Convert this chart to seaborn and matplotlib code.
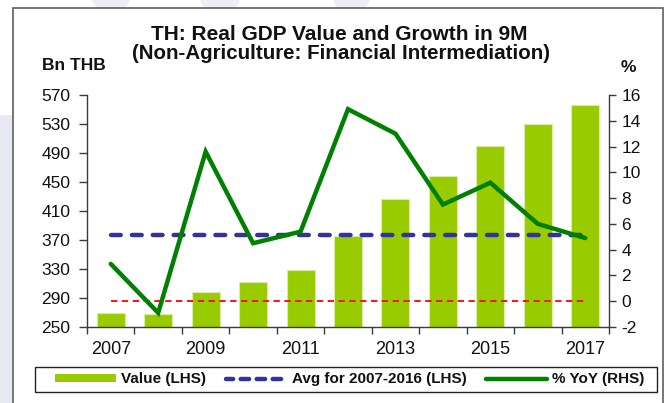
import numpy as np
import pandas as pd
import matplotlib
matplotlib.use("Agg")
import matplotlib.pyplot as plt
from matplotlib.patches import Rectangle, Patch, Polygon
from matplotlib.lines import Line2D
from matplotlib.ticker import FixedLocator, FixedFormatter, NullFormatter
import seaborn as sns

# ---- data ----
years = ["2007", "2008", "2009", "2010", "2011", "2012", "2013", "2014", "2015", "2016", "2017"]
value_bn_thb = [269, 267.5, 298, 311.5, 328, 375, 426.5, 458, 500, 530, 556]
yoy_pct = [2.9, -0.9, 11.6, 4.5, 5.4, 14.9, 13.0, 7.5, 9.2, 6.0, 4.9]
avg_2007_2016 = 376.5
zero_ref = 0.0
lhs_ticks = [250, 290, 330, 370, 410, 450, 490, 530, 570]
rhs_ticks = [-2, 0, 2, 4, 6, 8, 10, 12, 14, 16]
xlabel_years = ["2007", "2009", "2011", "2013", "2015", "2017"]

title_line1 = "TH: Real GDP Value and Growth in 9M"
title_line2 = "(Non-Agriculture: Financial Intermediation)"
lhs_label = "Bn THB"
rhs_label = "%"
legend_labels = ["Value (LHS)", "Avg for 2007-2016 (LHS)", "% YoY (RHS)"]

BAR_C = "#99CC00"
LINE_C = "#008000"
AVG_C = "#333399"
RED_C = "#FF0000"
TXT_C = "#111111"
AX_C = "#3a3a3a"

sns.set_style("white")
plt.rcParams["font.family"] = ["Liberation Sans", "DejaVu Sans"]
plt.rcParams["axes.unicode_minus"] = False

W, H = 669, 403
fig = plt.figure(figsize=(W / 100, H / 100), dpi=100)
fig.patch.set_facecolor("white")

# background decorations: lavender strip and outer frame
fig.patches.append(Rectangle((0, 0), 12.5 / W, 1 - 115 / H, transform=fig.transFigure,
                             facecolor="#e9e9f4", edgecolor="none", zorder=-5))
for xs in [(92, 130), (200, 240), (333, 370)]:
    fig.patches.append(Polygon([(xs[0] / W, 1), (xs[1] / W, 1), (xs[1] / W - 4 / W, 1 - 8 / H),
                                (xs[0] / W + 4 / W, 1 - 8 / H)], closed=True, transform=fig.transFigure,
                               facecolor="#ededf6", edgecolor="none", zorder=-5))
fig.patches.append(Rectangle((13 / W, -0.05), (663 - 13) / W, 1.05 - 8 / H, transform=fig.transFigure,
                             fill=False, edgecolor="#6b6b6b", linewidth=1.3, zorder=-4))

ax = fig.add_axes([87 / W, (H - 327) / H, (609 - 87) / W, (327 - 95) / H])
ax.set_facecolor("white")

df = pd.DataFrame({"year": years, "value": value_bn_thb, "yoy": yoy_pct})
df["pos"] = np.arange(len(df))

sns.barplot(data=df, x="year", y="value", color=BAR_C, saturation=1, width=0.59,
            edgecolor="#d9ee9f", linewidth=0.8, ax=ax, zorder=2)

n = len(years)
ax.plot([0, n - 1], [avg_2007_2016, avg_2007_2016], color=AVG_C, linewidth=3.2,
        linestyle=(0, (2.2, 2.5)), dash_capstyle="round", zorder=3)

ax.set_ylim(lhs_ticks[0], lhs_ticks[-1])
ax.set_yticks(lhs_ticks)
ax.set_xlim(-0.5, n - 0.5)
ax.set_xlabel("")
ax.set_ylabel("")

ax2 = ax.twinx()
ax2.plot([0, n - 1], [zero_ref, zero_ref], color=RED_C, linewidth=1.3,
         linestyle=(0, (3.5, 2.5)), zorder=2)
sns.lineplot(data=df, x="pos", y="yoy", color=LINE_C, linewidth=3.2, ax=ax2,
             zorder=4, solid_joinstyle="miter")
ax2.set_ylim(rhs_ticks[0], rhs_ticks[-1])
ax2.set_yticks(rhs_ticks)
ax2.set_xlim(-0.5, n - 0.5)
ax2.set_xlabel("")
ax2.set_ylabel("")

# spines
for a in (ax, ax2):
    a.spines["top"].set_visible(False)
    for s in ("left", "right", "bottom"):
        a.spines[s].set_color(AX_C)
        a.spines[s].set_linewidth(1.0)
ax.spines["right"].set_visible(False)
ax2.spines["left"].set_visible(False)
ax2.spines["bottom"].set_visible(False)

# x ticks: marks at category boundaries, labels at every other year
ax.xaxis.set_major_locator(FixedLocator(np.arange(-0.5, n, 1.0)))
ax.xaxis.set_major_formatter(NullFormatter())
label_pos = [years.index(y) for y in xlabel_years]
ax.xaxis.set_minor_locator(FixedLocator(label_pos))
ax.xaxis.set_minor_formatter(FixedFormatter(xlabel_years))
ax.tick_params(axis="x", which="major", direction="out", length=5, width=1, color=AX_C, bottom=True)
ax.tick_params(axis="x", which="minor", length=0, pad=10, labelsize=13, labelcolor=TXT_C, bottom=True)

ax.tick_params(axis="y", direction="out", length=6, width=1, color=AX_C, pad=6,
               labelsize=12.5, labelcolor=TXT_C, left=True)
ax2.tick_params(axis="y", direction="out", length=5, width=1, color=AX_C, pad=4,
                labelsize=12.5, labelcolor=TXT_C, right=True)
ax2.tick_params(axis="x", which="both", bottom=False, labelbottom=False)

# titles and axis unit labels
fig.text(339 / W, 1 - 40 / H, title_line1, ha="center", va="baseline", fontsize=15,
         fontweight="bold", color=TXT_C)
fig.text(341 / W, 1 - 59 / H, title_line2, ha="center", va="baseline", fontsize=14.8,
         fontweight="bold", color=TXT_C)
fig.text(42 / W, 1 - 70 / H, lhs_label, ha="left", va="baseline", fontsize=12.5,
         fontweight="bold", color=TXT_C)
fig.text(628 / W, 1 - 72 / H, rhs_label, ha="center", va="baseline", fontsize=12.5,
         fontweight="bold", color=TXT_C)

# legend: frame drawn as a box, entries placed inside it
fig.patches.append(Rectangle((35 / W, (H - 392) / H), (657 - 35) / W, 25 / H, transform=fig.transFigure,
                             fill=False, edgecolor="#222222", linewidth=1.0, zorder=5))
handles = [
    Patch(facecolor=BAR_C, edgecolor="none"),
    Line2D([], [], color=AVG_C, linewidth=3.2, linestyle=(0.3, (1.9, 1.7)), dash_capstyle="round"),
    Line2D([], [], color=LINE_C, linewidth=3.2),
]
leg = fig.legend(handles, legend_labels, loc="center left", ncol=3,
                 bbox_to_anchor=(55 / W, (H - 379.5) / H), borderaxespad=0, borderpad=0,
                 frameon=False, handlelength=4.0, handleheight=0.4, handletextpad=0.35,
                 columnspacing=1.25,
                 prop={"weight": "bold", "size": 11, "family": ["Liberation Sans", "DejaVu Sans"]})
for t in leg.get_texts():
    t.set_color(TXT_C)

fig.savefig("out.png", dpi=100, facecolor="white")
